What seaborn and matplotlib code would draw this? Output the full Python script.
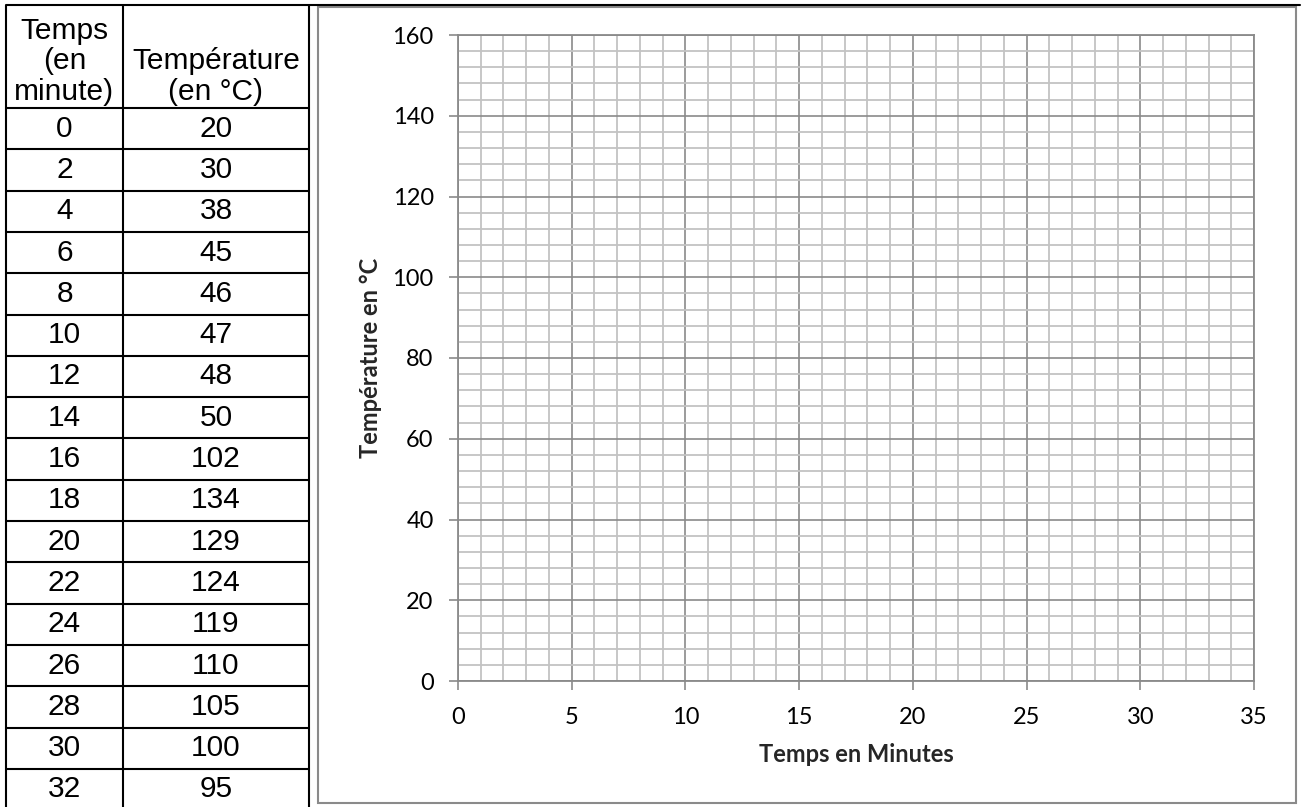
import matplotlib
matplotlib.use("Agg")
import matplotlib.pyplot as plt
import seaborn as sns
from matplotlib.patches import Rectangle
from matplotlib.ticker import MultipleLocator

# données du tableau
temps = [0, 2, 4, 6, 8, 10, 12, 14, 16, 18, 20, 22, 24, 26, 28, 30, 32]
temperature = [20, 30, 38, 45, 46, 47, 48, 50, 102, 134, 129, 124, 119, 110, 105, 100, 95]
entete_temps = "Temps\n(en\nminute)"
entete_temp = "Température\n(en °C)"

# axes du graphique (vide)
x_max, y_max = 35, 160
x_major, x_minor = 5, 1
y_major, y_minor = 20, 4

sns.set_theme(style="white")
plt.rcParams['font.family'] = ['Lato', 'DejaVu Sans']

W, H = 1304, 807
fig = plt.figure(figsize=(W / 100, H / 100), dpi=100)

# calque en pixels pour le tableau et les cadres
bg = fig.add_axes([0, 0, 1, 1])
bg.set_xlim(0, W)
bg.set_ylim(H, 0)
bg.axis("off")

col_x = [6, 123, 309]
top, head_bot, row_h = 5, 108, 41.3
lw_tab = 1.5
for cx in col_x:
    bg.plot([cx, cx], [top, H], color="black", lw=lw_tab, solid_capstyle="butt")
bg.plot([col_x[0], 1300], [top, top], color="black", lw=lw_tab)
for i in range(len(temps)):
    yl = head_bot + i * row_h
    bg.plot([col_x[0], col_x[2]], [yl, yl], color="black", lw=lw_tab)

tab_font = dict(family=['Liberation Sans', 'DejaVu Sans'], fontsize=21.5, color="black")
c1 = (col_x[0] + col_x[1]) / 2
c2 = (col_x[1] + col_x[2]) / 2
bg.text(c1, head_bot - 2, entete_temps, ha="center", va="bottom", linespacing=1.12, **tab_font)
bg.text(c2, head_bot - 2, entete_temp, ha="center", va="bottom", linespacing=1.12, **tab_font)
for i, (t, v) in enumerate(zip(temps, temperature)):
    yc = head_bot + (i + 0.5) * row_h
    bg.text(c1, yc, str(t), ha="center", va="center", **tab_font)
    bg.text(c2, yc, str(v), ha="center", va="center", **tab_font)

# cadre gris du graphique
bg.add_patch(Rectangle((318, 7), 1296 - 318, 803 - 7, fill=False,
                       edgecolor="#8a8a8a", lw=1.5))

# graphique
ax = fig.add_axes([458 / W, (H - 681) / H, (1254 - 458) / W, (681 - 35) / H])
ax.set_xlim(0, x_max)
ax.set_ylim(0, y_max)
ax.xaxis.set_major_locator(MultipleLocator(x_major))
ax.xaxis.set_minor_locator(MultipleLocator(x_minor))
ax.yaxis.set_major_locator(MultipleLocator(y_major))
ax.yaxis.set_minor_locator(MultipleLocator(y_minor))
ax.grid(which="minor", color="#c3c3c3", lw=1.3)
ax.grid(which="major", color="#8a8a8a", lw=1.2)
ax.set_axisbelow(True)
for s in ax.spines.values():
    s.set_color("#8a8a8a")
    s.set_linewidth(1.3)

ax.tick_params(which="major", direction="out", length=6.5, width=1.2, color="#8a8a8a",
               labelsize=17, labelcolor="black", left=True, bottom=True)
ax.tick_params(axis="y", which="major", pad=11)
ax.tick_params(axis="x", which="major", pad=12)
ax.tick_params(which="minor", length=0)

ax.set_xlabel("Temps en Minutes", fontsize=17, fontweight="bold", va="center")
ax.set_ylabel("Température en °C", fontsize=17, fontweight="bold", va="center")
ax.xaxis.set_label_coords(0.5, (681 - 754) / (681 - 35))
ax.yaxis.set_label_coords((371 - 458) / (1254 - 458), 0.5)

fig.savefig("out.png", dpi=100)
